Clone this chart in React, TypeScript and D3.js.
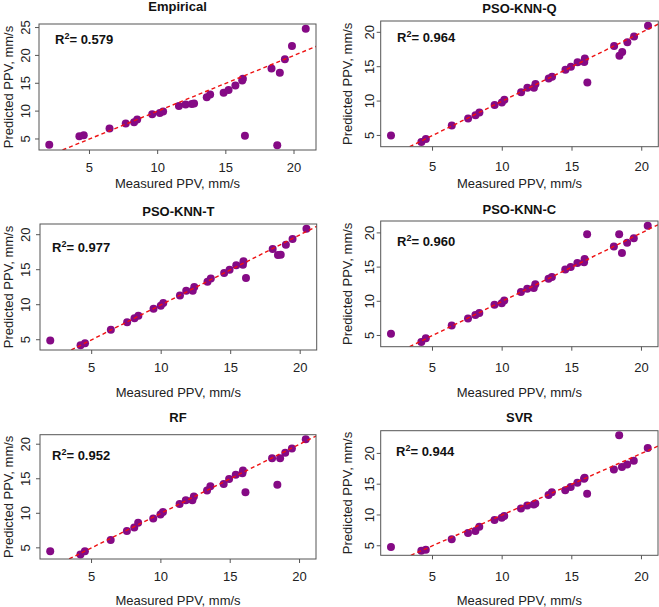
import React from "react";
import * as d3 from "d3";

// Measured PPV (shared by the machine-learning panels)
const measured = [2.02, 4.2, 4.52, 6.38, 7.55, 8.08, 8.36, 9.45, 9.97, 10.15, 11.35, 11.8, 12.27, 12.38, 13.33, 13.57, 14.53, 14.92, 15.4, 15.88, 15.92, 16.1, 18.02, 18.4, 18.6, 18.97, 19.45, 20.45];
// Measured PPV as plotted in the Empirical panel
const measuredEmpirical = [2.05, 4.26, 4.58, 6.47, 7.66, 8.27, 8.5, 9.6, 10.16, 10.4, 11.56, 12.05, 12.5, 12.67, 13.6, 13.85, 14.84, 15.2, 15.7, 16.2, 16.25, 16.4, 18.35, 18.77, 18.96, 19.33, 19.85, 20.86];

const predEmpirical = [3.98, 5.48, 5.66, 6.86, 7.76, 8.0, 8.48, 9.44, 9.68, 9.92, 10.9, 11.2, 11.3, 11.37, 12.5, 13.0, 13.3, 13.77, 14.6, 15.5, 15.8, 5.6, 17.67, 3.86, 16.9, 19.3, 21.7, 24.8];
const predQ = [5.0, 4.04, 4.5, 6.45, 7.46, 7.94, 8.33, 9.44, 9.8, 10.2, 11.3, 11.95, 11.95, 12.5, 13.3, 13.54, 14.55, 15.0, 15.66, 15.7, 16.2, 12.7, 18.0, 16.6, 17.15, 18.55, 19.4, 20.97];
const predT = [4.9, 4.2, 4.5, 6.43, 7.48, 8.05, 8.43, 9.43, 9.86, 10.24, 11.33, 12.0, 12.0, 12.52, 13.29, 13.76, 14.52, 15.0, 15.62, 15.7, 16.2, 13.8, 17.95, 17.1, 17.15, 18.57, 19.38, 20.86];
const predC = [5.24, 4.04, 4.6, 6.45, 7.5, 8.0, 8.3, 9.5, 9.73, 10.1, 11.37, 11.85, 11.95, 12.48, 13.3, 13.54, 14.65, 15.0, 15.6, 15.7, 16.2, 19.8, 18.0, 19.8, 17.06, 18.55, 19.23, 21.06];
const predRF = [4.52, 4.05, 4.52, 6.14, 7.43, 7.95, 8.62, 9.24, 9.81, 10.19, 11.33, 11.9, 11.9, 12.43, 13.29, 13.9, 14.24, 14.95, 15.57, 15.8, 16.19, 13.05, 17.95, 14.14, 17.95, 18.76, 19.38, 20.71];
const predSVR = [4.79, 4.2, 4.36, 6.07, 7.09, 7.41, 8.1, 9.18, 9.55, 9.82, 11.05, 11.53, 11.7, 11.86, 13.25, 13.68, 14.0, 14.53, 15.23, 15.87, 16.03, 13.46, 17.37, 22.94, 17.8, 18.18, 18.82, 20.86];

const titles = ["Empirical", "PSO-KNN-Q", "PSO-KNN-T", "PSO-KNN-C", "RF", "SVR"];
const r2Values = ["0.579", "0.964", "0.977", "0.960", "0.952", "0.944"];
const xTicks = [5, 10, 15, 20];
const yTicksEmpirical = [5, 10, 15, 20, 25];
const yTicksOther = [5, 10, 15, 20];
const xLabel = "Measured PPV, mm/s";
const yLabel = "Predicted PPV, mm/s";

// layout (pixel geometry of each panel)
const layouts = [
  { l: 39, t: 24, r: 316, b: 150, titleY: 11, xTickY: 167, xTitleY: 183, yTickX: 25, yTitleX: 8, r2x: 55, r2y: 44 },
  { l: 380.7, t: 21, r: 658.3, b: 146.7, titleY: 13, xTickY: 166, xTitleY: 183, yTickX: 369, yTitleX: 347, r2x: 397, r2y: 42 },
  { l: 40, t: 224, r: 316.7, b: 350, titleY: 216, xTickY: 367, xTitleY: 392, yTickX: 25, yTitleX: 8, r2x: 52, r2y: 252 },
  { l: 380.7, t: 221, r: 658, b: 346.7, titleY: 214, xTickY: 367, xTitleY: 392, yTickX: 369, yTitleX: 347, r2x: 397, r2y: 246 },
  { l: 40, t: 434.7, r: 316, b: 559, titleY: 422, xTickY: 576, xTitleY: 600, yTickX: 25, yTitleX: 8, r2x: 52, r2y: 460 },
  { l: 380.7, t: 430.7, r: 658, b: 555.3, titleY: 422, xTickY: 576, xTitleY: 600, yTickX: 369, yTitleX: 347, r2x: 396, r2y: 456 },
];

const FONT = "'Liberation Sans', Arial, Helvetica, sans-serif";
const POINT = "#850a85";

function ext(vals: number[]): [number, number] {
  const [a, b] = d3.extent(vals) as [number, number];
  const p = (b - a) * 0.04;
  return [a - p, b + p];
}

function Panel({ idx, xs, ys, yTicks }: { idx: number; xs: number[]; ys: number[]; yTicks: number[] }) {
  const L = layouts[idx];
  const x = d3.scaleLinear().domain(ext(xs)).range([L.l, L.r]);
  const y = d3.scaleLinear().domain(ext(ys)).range([L.b, L.t]);
  const [x0, x1] = x.domain();
  const [y0, y1] = y.domain();
  const lo = Math.max(x0, y0);
  const hi = Math.min(x1, y1);
  const line = d3.line<number>().x((d) => x(d)).y((d) => y(d));
  const cx = (L.l + L.r) / 2;
  const cy = (L.t + L.b) / 2;
  const clipId = `clip${idx}`;
  return (
    <g>
      <defs>
        <clipPath id={clipId}>
          <rect x={L.l} y={L.t} width={L.r - L.l} height={L.b - L.t} />
        </clipPath>
      </defs>
      <text x={cx} y={L.titleY} textAnchor="middle" fontWeight="bold" fontSize={13} fontFamily={FONT} fill="#111">
        {titles[idx]}
      </text>
      <g clipPath={`url(#${clipId})`}>
        {xs.map((d, i) => (
          <circle key={i} cx={x(d)} cy={y(ys[i])} r={4} fill={POINT} />
        ))}
        <path d={line([lo, hi]) || ""} stroke="#ee1111" strokeWidth={1.4} strokeDasharray="4,3" fill="none" />
      </g>
      <rect x={L.l} y={L.t} width={L.r - L.l} height={L.b - L.t} fill="none" stroke="#555" strokeWidth={1} />
      {xTicks.map((t) => (
        <g key={"x" + t}>
          <line x1={x(t)} x2={x(t)} y1={L.b} y2={L.b + 4} stroke="#555" />
          <text x={x(t)} y={L.xTickY} dy="0.35em" textAnchor="middle" fontSize={13} fontFamily={FONT} fill="#222">
            {t}
          </text>
        </g>
      ))}
      {yTicks.map((t) => (
        <g key={"y" + t}>
          <line x1={L.l - 4} x2={L.l} y1={y(t)} y2={y(t)} stroke="#555" />
          <text
            transform={`translate(${L.yTickX},${y(t)}) rotate(-90)`}
            dy="0.35em"
            textAnchor="middle"
            fontSize={13}
            fontFamily={FONT}
            fill="#222"
          >
            {t}
          </text>
        </g>
      ))}
      <text x={cx} y={L.xTitleY} dy="0.35em" textAnchor="middle" fontSize={13} fontFamily={FONT} fill="#222">
        {xLabel}
      </text>
      <text
        transform={`translate(${L.yTitleX},${cy}) rotate(-90)`}
        dy="0.35em"
        textAnchor="middle"
        fontSize={13}
        fontFamily={FONT}
        fill="#222"
      >
        {yLabel}
      </text>
      <text x={L.r2x} y={L.r2y} fontWeight="bold" fontSize={13} fontFamily={FONT} fill="#111">
        R<tspan fontSize={9} dy={-5}>2</tspan>
        <tspan dy={5}>= {r2Values[idx]}</tspan>
      </text>
    </g>
  );
}

export default function App() {
  const preds = [predEmpirical, predQ, predT, predC, predRF, predSVR];
  return (
    <svg width={659} height={607} style={{ position: "absolute", left: 0, top: 0, background: "#fff" }}>
      <rect x={0} y={0} width={659} height={607} fill="#fff" />
      {preds.map((p, i) => (
        <Panel key={i} idx={i} xs={i === 0 ? measuredEmpirical : measured} ys={p} yTicks={i === 0 ? yTicksEmpirical : yTicksOther} />
      ))}
    </svg>
  );
}
